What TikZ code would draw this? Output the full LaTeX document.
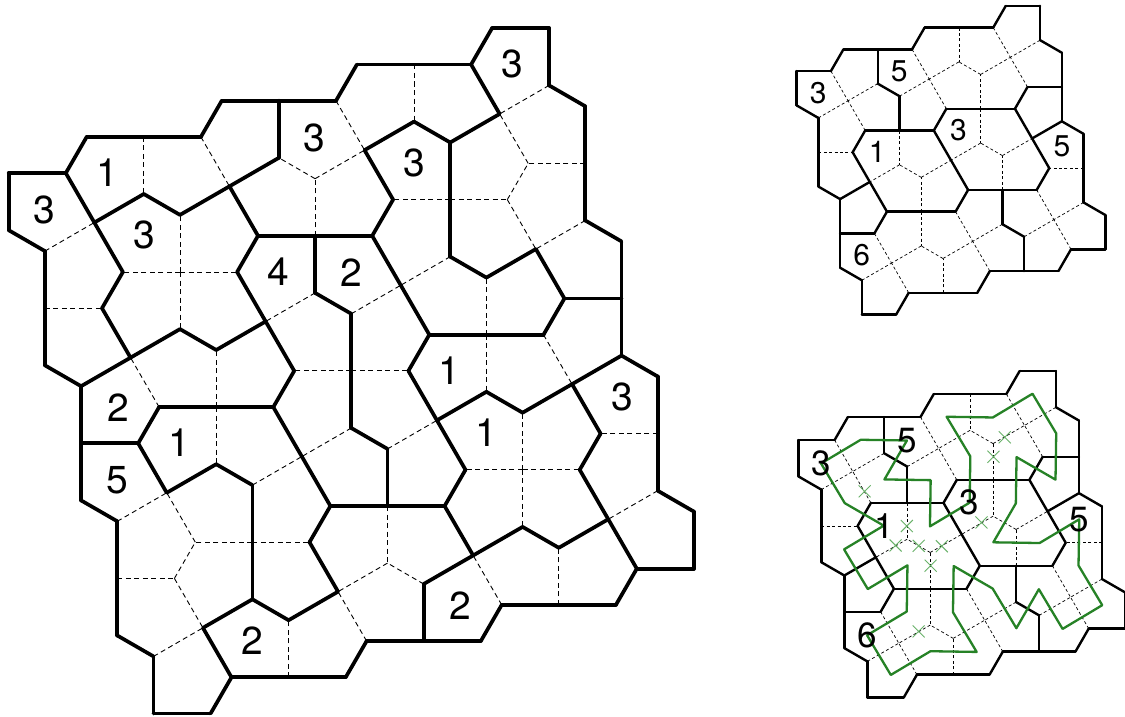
\documentclass[tikz,border=0pt]{standalone}
\usepackage{fontspec}
\newfontfamily\labfont{TeX Gyre Heros}
\definecolor{pathgreen}{RGB}{38,130,38}
\definecolor{xgreen}{RGB}{105,178,105}
% type-0 vertex P(m,n) plus offset (dx,dy) in units of edge length
\newcommand\PP[4]{({\pOx+((#1)*2.3660254+(#2)*0.6339746+(#3))*\pA},{\pOy+((#2)*2.3660254-(#1)*0.6339746+(#4))*\pA})}
\newcommand\cNE[2]{\PP{#1}{#2}{0.6464}{-0.6268}}
\newcommand\cNW[2]{\PP{#1}{#2}{-0.6268}{-0.6464}}
\newcommand\cSW[2]{\PP{#1}{#2}{-0.6464}{0.6268}}
\newcommand\cSE[2]{\PP{#1}{#2}{0.6268}{0.6464}}
\newcommand\region[3]{\foreach \pitem in {#3}{\expandafter\gdef\csname R#1@\pitem\endcsname{#2}}}
\newcommand\rid[4]{\ifcsname R#1@#2@#3@#4\endcsname\csname R#1@#2@#3@#4\endcsname\else0\fi}
\newcommand\edgeop[6]{%
  \ifnum#1=#2\relax
    \ifnum#1=0\relax\else
      \draw[curdash]\PP\m\n{#3}{#4}--\PP\m\n{#5}{#6};%
    \fi
  \else
    \draw[curthick]\PP\m\n{#3}{#4}--\PP\m\n{#5}{#6};%
  \fi}
\newcommand\vedges{%
 \edgeop{\rid\pz\m\n{NE}}{\rid\pz\m\n{SE}}{0}{0}{1}{0}%
 \edgeop{\rid\pz\m\n{NE}}{\rid\pz\m\n{NW}}{0}{0}{0}{-1}%
 \edgeop{\rid\pz\m\n{NW}}{\rid\pz\m\n{SW}}{0}{0}{-1}{0}%
 \edgeop{\rid\pz\m\n{SW}}{\rid\pz\m\n{SE}}{0}{0}{0}{1}%
 \edgeop{\rid\pz\m\n{SE}}{\rid\pz{\the\numexpr\m+1\relax}\n{SW}}{1}{0}{1.5}{0.8660254}%
 \edgeop{\rid\pz\m\n{NE}}{\rid\pz\m{\the\numexpr\n-1\relax}{SE}}{0}{-1}{0.8660254}{-1.5}%
 \edgeop{\rid\pz\m\n{NW}}{\rid\pz{\the\numexpr\m-1\relax}\n{NE}}{-1}{0}{-1.5}{-0.8660254}%
 \edgeop{\rid\pz\m\n{SW}}{\rid\pz\m{\the\numexpr\n+1\relax}{NW}}{0}{1}{-0.8660254}{1.5}%
 \edgeop{\rid\pz\m\n{NE}}{\rid\pz{\the\numexpr\m+1\relax}\n{SW}}{1}{0}{1.3660254}{-0.6339746}%
 \edgeop{\rid\pz\m\n{NW}}{\rid\pz\m{\the\numexpr\n-1\relax}{SE}}{0}{-1}{-0.6339746}{-1.3660254}%
}
\newcommand\xmk[4]{\draw[xmk]\PP{#1}{#2}{#3}{#4} +(-6,-6) -- +(6,6) +(-6,6) -- +(6,-6);}
% big puzzle regions
\region{B}{1}{-1@-1@SE,-1@0@NE,-1@0@SE}
\region{B}{2}{0@-1@SW,0@-1@SE,1@-1@SW}
\region{B}{3}{0@0@NW,0@0@NE,0@0@SW,0@0@SE}
\region{B}{4}{1@-1@SE,2@-1@SW,2@-1@SE,1@0@NW,1@0@NE}
\region{B}{5}{3@-1@SW,3@0@NW,2@0@NE,2@0@SE,3@0@SW,3@1@NW}
\region{B}{6}{2@0@NW,2@0@SW,2@1@NW,2@1@NE}
\region{B}{7}{1@0@SW,1@1@NW,1@1@SW,1@2@NW}
\region{B}{8}{1@0@SE,1@1@NE,1@1@SE,1@2@NE}
\region{B}{9}{-1@1@NE,0@1@NW,0@1@NE}
\region{B}{10}{0@1@SW,0@1@SE,0@2@NE,0@2@SE}
\region{B}{11}{-1@1@SE,-1@2@NE,-1@2@SE,0@2@NW,0@2@SW,-1@3@NE}
\region{B}{12}{2@1@SW,2@1@SE,3@1@SW}
\region{B}{13}{3@2@NW,3@2@SW,3@3@NW}
\region{B}{14}{2@2@NW,2@2@NE,2@2@SW,2@2@SE}
\region{B}{15}{0@3@NW,0@3@NE,1@3@NW,1@2@SW,1@2@SE}
\region{B}{16}{1@3@NE,2@3@NW,2@3@NE}
% small puzzle regions
\region{S}{1}{-1@-1@SE,0@-1@SW,0@0@NW,-1@0@NE,-1@0@SE}
\region{S}{2}{0@-1@SE,1@-1@SW,1@-1@SE,2@-1@SW,2@0@NW,1@0@NE,1@0@NW,0@0@NE}
\region{S}{3}{2@0@SW}
\region{S}{4}{1@0@SW,1@0@SE,1@1@NW,1@1@NE}
\region{S}{5}{0@0@SW,0@0@SE,0@1@NW,0@1@NE}
\region{S}{6}{2@1@NW,2@1@SW,1@1@SE,2@2@NW,1@2@NE}
\region{S}{7}{-1@1@NE}
\region{S}{8}{-1@1@SE,-1@2@NE,0@1@SW,0@1@SE,1@1@SW,1@2@NW,0@2@NE,0@2@NW}
\begin{document}
\begin{tikzpicture}[x=1pt,y=-1pt,
 bdash/.style={line width=0.9pt,dash pattern=on 5pt off 3.5pt},
 bthick/.style={line width=3.7pt,line cap=round},
 sdash/.style={line width=0.7pt,dash pattern=on 3pt off 2.4pt},
 sthick/.style={line width=2.4pt,line cap=round},
 blab/.style={font=\labfont\fontsize{39}{40}\selectfont,inner sep=0pt},
 slab/.style={font=\labfont\fontsize{30}{31}\selectfont,inner sep=0pt},
 rlab/.style={font=\labfont\fontsize{35}{36}\selectfont,inner sep=0pt},
 gpath/.style={draw=pathgreen,line width=2.3pt,line join=round},
 xmk/.style={draw=xgreen,line width=0.9pt}]
\useasboundingbox (0,0) rectangle (1125,717);
\fill[white] (0,0) rectangle (1125,717);
% ---------------- big puzzle
\begin{scope}
\def\pz{B}\def\pOx{180}\def\pOy{272}\def\pA{57.1}
\tikzset{curdash/.style={bdash},curthick/.style={bthick}}
\foreach \m in {-2,...,4}{\foreach \n in {-2,...,4}{\vedges}}
\path \cSE{-1}{-1} node[blab]{3};
\path \cSW{0}{-1} node[blab]{1};
\path \cSE{1}{-1} node[blab]{3};
\path \cNW{2}{0} node[blab]{3};
\path \cSW{3}{-1} node[blab]{3};
\path \cNW{0}{0} node[blab]{3};
\path \cSW{1}{0} node[blab]{4};
\path \cSE{1}{0} node[blab]{2};
\path \cSW{2}{1} node[blab]{1};
\path \cNE{-1}{1} node[blab]{2};
\path \cSW{0}{1} node[blab]{1};
\path \cNW{2}{2} node[blab]{1};
\path \cNW{3}{2} node[blab]{3};
\path \cSE{-1}{1} node[blab]{5};
\path \cNW{0}{3} node[blab]{2};
\path \cNE{1}{3} node[blab]{2};
\end{scope}
% ---------------- top right puzzle
\begin{scope}
\def\pz{S}\def\pOx{899.5}\def\pOy{130.5}\def\pA{34.3}
\tikzset{curdash/.style={sdash},curthick/.style={sthick}}
\foreach \m in {-2,...,3}{\foreach \n in {-2,...,3}{\vedges}}
\path \cSE{-1}{-1} node[slab]{3};
\path \cSE{0}{-1} node[slab]{5};
\path \cSW{0}{0} node[slab]{1};
\path \cSW{1}{0} node[slab]{3};
\path \cNW{2}{1} node[slab]{5};
\path \cSE{-1}{1} node[slab]{6};
\end{scope}
% ---------------- bottom right puzzle with solution
\begin{scope}
\def\pz{S}\def\pOx{907.2}\def\pOy{502.9}\def\pA{36.3}
\tikzset{curdash/.style={sdash},curthick/.style={sthick}}
\foreach \m in {-2,...,3}{\foreach \n in {-2,...,3}{\vedges}}
\draw[gpath] \cSE{-1}{-1} -- \cSW{0}{-1} -- \cSE{0}{-1} -- \cNW{0}{0} -- \cNE{0}{0} -- \cSE{0}{0} -- \cSW{1}{0} -- \cNW{1}{0} -- \cSW{1}{-1} -- \cSE{1}{-1} -- \cSW{2}{-1} -- \cNW{2}{0} -- \cSW{2}{0} -- \cNE{1}{0} -- \cSE{1}{0} -- \cNW{1}{1} -- \cNE{1}{1} -- \cNW{2}{1} -- \cSW{2}{1} -- \cNW{2}{2} -- \cNE{1}{2} -- \cSE{1}{1} -- \cNW{1}{2} -- \cSW{1}{1} -- \cNE{0}{1} -- \cSE{0}{1} -- \cNE{0}{2} -- \cNW{0}{2} -- \cNE{-1}{2} -- \cSE{-1}{1} -- \cSW{0}{1} -- \cNW{0}{1} -- \cNE{-1}{1} -- \cSE{-1}{0} -- \cSW{0}{0} -- \cNE{-1}{0} -- cycle;
\xmk{-0.5}{0}{0.0098}{-0.6366}
\xmk{0}{0}{-0.0098}{0.6366}
\xmk{0}{0.5}{-0.6366}{-0.0098}
\xmk{0}{0.5}{0}{0}
\xmk{0}{0.5}{0.6366}{0.0098}
\xmk{0}{1}{0.0098}{-0.6366}
\xmk{1}{0.5}{-0.6366}{-0.0098}
\xmk{1}{0}{0.0098}{-0.6366}
\xmk{1}{-0.5}{0.6366}{0.0098}
\xmk{0}{1.5}{-0.6366}{-0.0098}
\path \cSE{-1}{-1} node[rlab]{3};
\path \cSE{0}{-1} node[rlab]{5};
\path \cSW{0}{0} node[rlab]{1};
\path \cSW{1}{0} node[rlab]{3};
\path \cNW{2}{1} node[rlab]{5};
\path \cSE{-1}{1} node[rlab]{6};
\end{scope}
\end{tikzpicture}
\end{document}
